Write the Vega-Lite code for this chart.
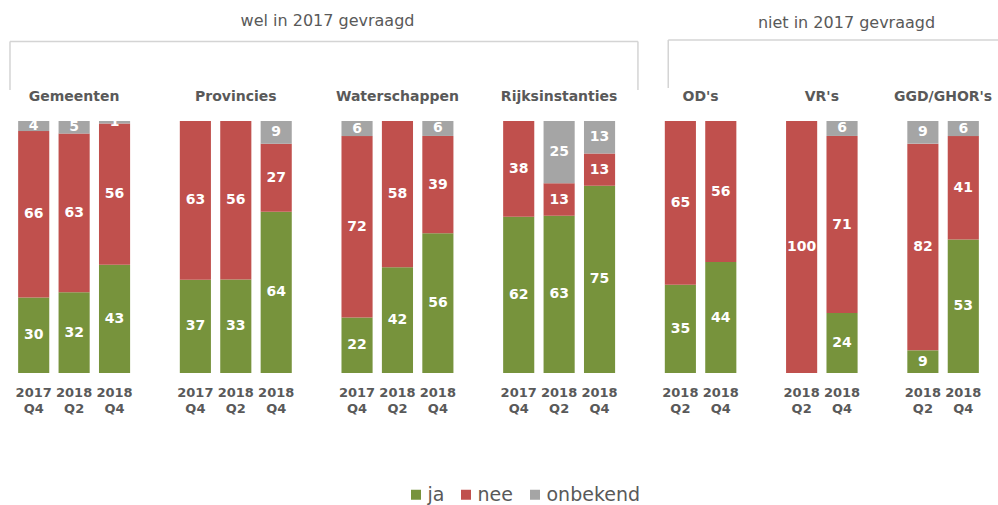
{
  "$schema": "https://vega.github.io/schema/vega-lite/v6.json",
  "width": 970,
  "height": 373,
  "autosize": {"type": "none"},
  "padding": {"left": 13.5, "top": 0, "right": 14.5, "bottom": 132},
  "config": {"view": {"stroke": null}, "font": "DejaVu Sans"},
  "datasets": {
    "bars": [
      {"key": "Gemeenten|2017 Q4", "cat": "ja", "value": 30},
      {"key": "Gemeenten|2017 Q4", "cat": "nee", "value": 66},
      {"key": "Gemeenten|2017 Q4", "cat": "onbekend", "value": 4},
      {"key": "Gemeenten|2018 Q2", "cat": "ja", "value": 32},
      {"key": "Gemeenten|2018 Q2", "cat": "nee", "value": 63},
      {"key": "Gemeenten|2018 Q2", "cat": "onbekend", "value": 5},
      {"key": "Gemeenten|2018 Q4", "cat": "ja", "value": 43},
      {"key": "Gemeenten|2018 Q4", "cat": "nee", "value": 56},
      {"key": "Gemeenten|2018 Q4", "cat": "onbekend", "value": 1},
      {"key": "Provincies|2017 Q4", "cat": "ja", "value": 37},
      {"key": "Provincies|2017 Q4", "cat": "nee", "value": 63},
      {"key": "Provincies|2018 Q2", "cat": "ja", "value": 33},
      {"key": "Provincies|2018 Q2", "cat": "nee", "value": 56},
      {"key": "Provincies|2018 Q4", "cat": "ja", "value": 64},
      {"key": "Provincies|2018 Q4", "cat": "nee", "value": 27},
      {"key": "Provincies|2018 Q4", "cat": "onbekend", "value": 9},
      {"key": "Waterschappen|2017 Q4", "cat": "ja", "value": 22},
      {"key": "Waterschappen|2017 Q4", "cat": "nee", "value": 72},
      {"key": "Waterschappen|2017 Q4", "cat": "onbekend", "value": 6},
      {"key": "Waterschappen|2018 Q2", "cat": "ja", "value": 42},
      {"key": "Waterschappen|2018 Q2", "cat": "nee", "value": 58},
      {"key": "Waterschappen|2018 Q4", "cat": "ja", "value": 56},
      {"key": "Waterschappen|2018 Q4", "cat": "nee", "value": 39},
      {"key": "Waterschappen|2018 Q4", "cat": "onbekend", "value": 6},
      {"key": "Rijksinstanties|2017 Q4", "cat": "ja", "value": 62},
      {"key": "Rijksinstanties|2017 Q4", "cat": "nee", "value": 38},
      {"key": "Rijksinstanties|2018 Q2", "cat": "ja", "value": 63},
      {"key": "Rijksinstanties|2018 Q2", "cat": "nee", "value": 13},
      {"key": "Rijksinstanties|2018 Q2", "cat": "onbekend", "value": 25},
      {"key": "Rijksinstanties|2018 Q4", "cat": "ja", "value": 75},
      {"key": "Rijksinstanties|2018 Q4", "cat": "nee", "value": 13},
      {"key": "Rijksinstanties|2018 Q4", "cat": "onbekend", "value": 13},
      {"key": "OD's|2018 Q2", "cat": "ja", "value": 35},
      {"key": "OD's|2018 Q2", "cat": "nee", "value": 65},
      {"key": "OD's|2018 Q4", "cat": "ja", "value": 44},
      {"key": "OD's|2018 Q4", "cat": "nee", "value": 56},
      {"key": "VR's|2018 Q2", "cat": "nee", "value": 100},
      {"key": "VR's|2018 Q4", "cat": "ja", "value": 24},
      {"key": "VR's|2018 Q4", "cat": "nee", "value": 71},
      {"key": "VR's|2018 Q4", "cat": "onbekend", "value": 6},
      {"key": "GGD/GHOR's|2018 Q2", "cat": "ja", "value": 9},
      {"key": "GGD/GHOR's|2018 Q2", "cat": "nee", "value": 82},
      {"key": "GGD/GHOR's|2018 Q2", "cat": "onbekend", "value": 9},
      {"key": "GGD/GHOR's|2018 Q4", "cat": "ja", "value": 53},
      {"key": "GGD/GHOR's|2018 Q4", "cat": "nee", "value": 41},
      {"key": "GGD/GHOR's|2018 Q4", "cat": "onbekend", "value": 6}
    ],
    "heads3": [
      {"text": "Gemeenten", "key": "Gemeenten|2018 Q2"},
      {"text": "Provincies", "key": "Provincies|2018 Q2"},
      {"text": "Waterschappen", "key": "Waterschappen|2018 Q2"},
      {"text": "Rijksinstanties", "key": "Rijksinstanties|2018 Q2"}
    ],
    "heads2": [
      {"text": "OD's", "key": "OD's|2018 Q2"},
      {"text": "VR's", "key": "VR's|2018 Q2"},
      {"text": "GGD/GHOR's", "key": "GGD/GHOR's|2018 Q2"}
    ],
    "one": [{"text": ""}]
  },
  "layer": [
    {
      "data": {"name": "bars"},
      "mark": {"type": "bar", "width": {"band": 0.77}},
      "encoding": {
        "x": {
          "field": "key", "type": "nominal",
          "scale": {
            "type": "band", "paddingInner": 0, "paddingOuter": 0,
            "domain": ["Gemeenten|2017 Q4", "Gemeenten|2018 Q2", "Gemeenten|2018 Q4", "gap1",
                       "Provincies|2017 Q4", "Provincies|2018 Q2", "Provincies|2018 Q4", "gap2",
                       "Waterschappen|2017 Q4", "Waterschappen|2018 Q2", "Waterschappen|2018 Q4", "gap3",
                       "Rijksinstanties|2017 Q4", "Rijksinstanties|2018 Q2", "Rijksinstanties|2018 Q4", "gap4",
                       "OD's|2018 Q2", "OD's|2018 Q4", "gap5",
                       "VR's|2018 Q2", "VR's|2018 Q4", "gap6",
                       "GGD/GHOR's|2018 Q2", "GGD/GHOR's|2018 Q4"]
          },
          "axis": {
            "title": null, "ticks": false, "domain": false, "labelAngle": 0,
            "labelExpr": "indexof(datum.value, '|') < 0 ? '' : split(split(datum.value, '|')[1], ' ')",
            "labelFont": "DejaVu Sans", "labelFontWeight": "bold", "labelFontSize": 13,
            "labelColor": "#595959", "labelPadding": 13, "labelLineHeight": 16,
            "labelOverlap": false, "labelBound": false, "labelFlush": false
          }
        },
        "y": {
          "field": "value", "type": "quantitative", "stack": "normalize",
          "scale": {"domain": [0, 1.48], "nice": false, "zero": true},
          "axis": null
        },
        "color": {
          "field": "cat", "type": "nominal",
          "scale": {"domain": ["ja", "nee", "onbekend"], "range": ["#77933C", "#C0504D", "#A5A5A5"]},
          "legend": {
            "title": null, "orient": "none", "legendX": 393, "legendY": 485,
            "direction": "horizontal", "symbolType": "square", "symbolSize": 100,
            "symbolStrokeWidth": 0, "labelFontSize": 19, "labelFont": "DejaVu Sans",
            "labelColor": "#595959", "columnPadding": 12, "labelOffset": 2, "padding": 0
          }
        },
        "order": {"field": "cat", "sort": "ascending"}
      }
    },
    {
      "data": {"name": "bars"},
      "mark": {"type": "text", "font": "DejaVu Sans", "fontWeight": "bold", "fontSize": 14, "color": "white", "baseline": "middle"},
      "encoding": {
        "x": {"field": "key", "type": "nominal"},
        "y": {"field": "value", "type": "quantitative", "stack": "normalize", "bandPosition": 0.5},
        "detail": {"field": "cat"},
        "order": {"field": "cat", "sort": "ascending"},
        "text": {"field": "value", "type": "quantitative"}
      }
    },
    {
      "data": {"name": "heads3"},
      "mark": {"type": "text", "font": "DejaVu Sans", "fontWeight": "bold", "fontSize": 14, "color": "#595959", "baseline": "alphabetic", "align": "center"},
      "encoding": {
        "x": {"field": "key", "type": "nominal", "bandPosition": 0.5},
        "y": {"datum": 1.079, "type": "quantitative"},
        "text": {"field": "text"}
      }
    },
    {
      "data": {"name": "heads2"},
      "mark": {"type": "text", "font": "DejaVu Sans", "fontWeight": "bold", "fontSize": 14, "color": "#595959", "baseline": "alphabetic", "align": "center"},
      "encoding": {
        "x": {"field": "key", "type": "nominal", "bandPosition": 1},
        "y": {"datum": 1.079, "type": "quantitative"},
        "text": {"field": "text"}
      }
    },
    {
      "data": {"name": "one"},
      "mark": {"type": "text", "font": "DejaVu Sans", "fontSize": 16, "color": "#595959", "baseline": "alphabetic", "align": "center"},
      "encoding": {
        "x": {"datum": "gap2", "type": "nominal", "bandPosition": 0.77},
        "y": {"datum": 1.377, "type": "quantitative"},
        "text": {"value": "wel in 2017 gevraagd"}
      }
    },
    {
      "data": {"name": "one"},
      "mark": {"type": "text", "font": "DejaVu Sans", "fontSize": 16, "color": "#595959", "baseline": "alphabetic", "align": "center"},
      "encoding": {
        "x": {"datum": "VR's|2018 Q4", "type": "nominal", "bandPosition": 0.61},
        "y": {"datum": 1.37, "type": "quantitative"},
        "text": {"value": "niet in 2017 gevraagd"}
      }
    },
    {
      "data": {"name": "one"},
      "mark": {"type": "rule", "color": "#D4D4D4", "strokeWidth": 1.5},
      "encoding": {
        "x": {"datum": "Gemeenten|2017 Q4", "type": "nominal", "bandPosition": -0.087},
        "y": {"datum": 1.123, "type": "quantitative"},
        "y2": {"datum": 1.315}
      }
    },
    {
      "data": {"name": "one"},
      "mark": {"type": "rule", "color": "#D4D4D4", "strokeWidth": 1.5},
      "encoding": {
        "x": {"datum": "gap4", "type": "nominal", "bandPosition": 0.45},
        "y": {"datum": 1.123, "type": "quantitative"},
        "y2": {"datum": 1.315}
      }
    },
    {
      "data": {"name": "one"},
      "mark": {"type": "rule", "color": "#D4D4D4", "strokeWidth": 1.5},
      "encoding": {
        "x": {"datum": "Gemeenten|2017 Q4", "type": "nominal", "bandPosition": -0.087},
        "x2": {"datum": "gap4", "bandPosition": 0.45},
        "y": {"datum": 1.315, "type": "quantitative"}
      }
    },
    {
      "data": {"name": "one"},
      "mark": {"type": "rule", "color": "#D4D4D4", "strokeWidth": 1.5},
      "encoding": {
        "x": {"datum": "OD's|2018 Q2", "type": "nominal", "bandPosition": 0.2},
        "y": {"datum": 1.131, "type": "quantitative"},
        "y2": {"datum": 1.321}
      }
    },
    {
      "data": {"name": "one"},
      "mark": {"type": "rule", "color": "#D4D4D4", "strokeWidth": 1.5},
      "encoding": {
        "x": {"datum": "OD's|2018 Q2", "type": "nominal", "bandPosition": 0.2},
        "x2": {"datum": "GGD/GHOR's|2018 Q4", "bandPosition": 1.4},
        "y": {"datum": 1.321, "type": "quantitative"}
      }
    }
  ]
}
